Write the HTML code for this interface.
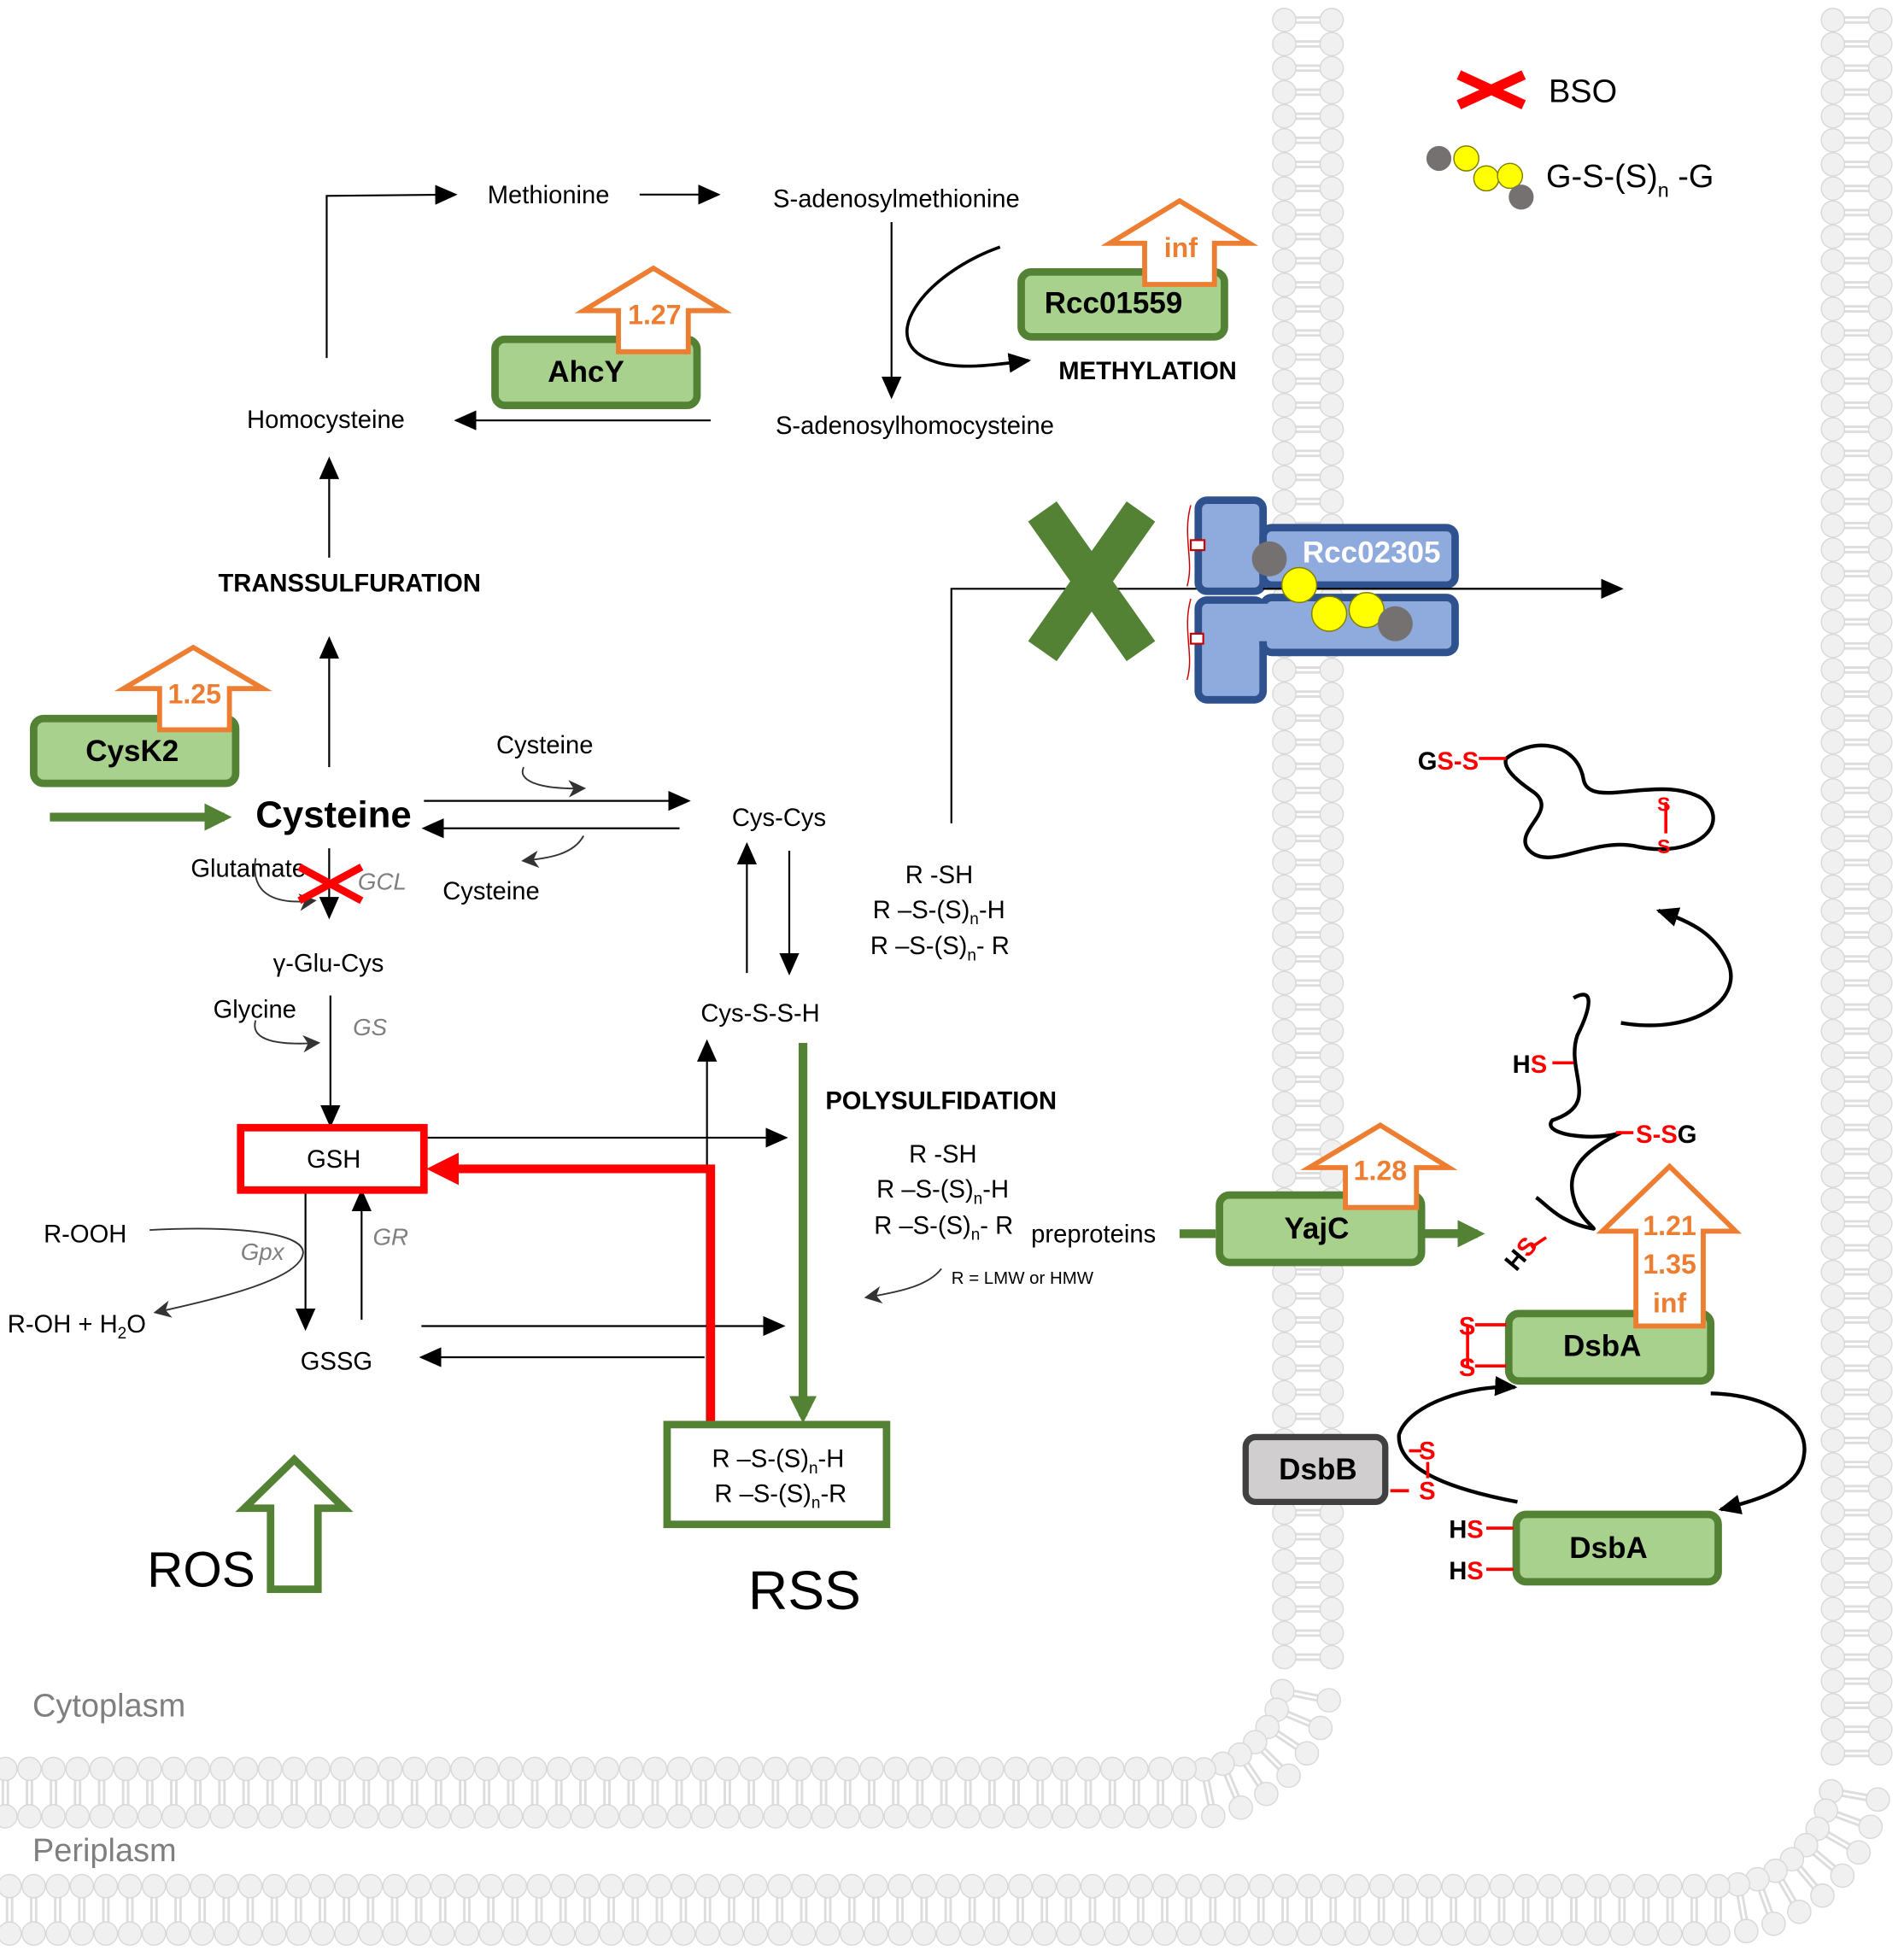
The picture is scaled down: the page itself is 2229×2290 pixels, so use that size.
<!DOCTYPE html>
<html><head><meta charset="utf-8"><style>
html,body{margin:0;padding:0;background:#fff}
svg{display:block}
text{font-family:"Liberation Sans","DejaVu Sans",sans-serif}
</style></head><body>
<svg id="s" width="2229" height="2290" viewBox="0 0 1527 1568" preserveAspectRatio="none" xmlns="http://www.w3.org/2000/svg">
<defs>
<marker id="a" markerWidth="10" markerHeight="10" refX="9" refY="5" orient="auto" markerUnits="userSpaceOnUse"><path d="M0,0 L10,5 L0,10z" fill="#000"/></marker>
<marker id="ab" markerWidth="18" markerHeight="16" refX="16" refY="8" orient="auto" markerUnits="userSpaceOnUse"><path d="M0,0 L18,8 L0,16z" fill="#000"/></marker>
<marker id="ag" markerWidth="22" markerHeight="22" refX="16" refY="11" orient="auto" markerUnits="userSpaceOnUse"><path d="M0,0 L22,11 L0,22z" fill="#548235"/></marker>
<marker id="ar" markerWidth="26" markerHeight="26" refX="6" refY="13" orient="auto" markerUnits="userSpaceOnUse"><path d="M0,0 L26,13 L0,26z" fill="#f00"/></marker>
<marker id="agr" markerWidth="14" markerHeight="14" refX="12" refY="7" orient="auto" markerUnits="userSpaceOnUse"><path d="M0,0 L14,7 L0,14 L4,7z" fill="#333"/></marker>
</defs>
<g id="mem"></g>

<path d="M1170,60 L1222,84 M1222,60 L1170,84" stroke="#f00" stroke-width="8"/>
<text x="1242" y="82" font-size="26">BSO</text>
<circle cx="1154" cy="127" r="10" fill="#767171"/>
<circle cx="1176" cy="127" r="10" fill="#ff0" stroke="#7f7f00" stroke-width="1"/>
<circle cx="1192" cy="143" r="10" fill="#ff0" stroke="#7f7f00" stroke-width="1"/>
<circle cx="1211" cy="141" r="10" fill="#ff0" stroke="#7f7f00" stroke-width="1"/>
<circle cx="1220" cy="158" r="10" fill="#767171"/>
<text x="1240" y="150" font-size="26">G-S-(S)<tspan font-size="16" dy="8">n</tspan><tspan dy="-8"> -G</tspan></text>

<g font-size="20">
<text x="391" y="163">Methionine</text>
<text x="620" y="166">S-adenosylmethionine</text>
<text x="198" y="343">Homocysteine</text>
<text x="622" y="348">S-adenosylhomocysteine</text>
<text x="398" y="604">Cysteine</text>
<text x="587" y="662">Cys-Cys</text>
<text x="355" y="721">Cysteine</text>
<text x="153" y="703">Glutamate</text>
<text x="219" y="779">γ-Glu-Cys</text>
<text x="171" y="816">Glycine</text>
<text x="562" y="819">Cys-S-S-H</text>
<text x="35" y="996">R-OOH</text>
<text x="6" y="1068">R-OH + H<tspan font-size="13" dy="5">2</tspan><tspan dy="-5">O</tspan></text>
<text x="241" y="1098">GSSG</text>
<text x="246" y="936">GSH</text>
<text x="726" y="708">R -SH</text>
<text x="700" y="736">R –S-(S)<tspan font-size="13" dy="5">n</tspan><tspan dy="-5">-H</tspan></text>
<text x="698" y="765">R –S-(S)<tspan font-size="13" dy="5">n</tspan><tspan dy="-5">- R</tspan></text>
<text x="729" y="932">R -SH</text>
<text x="703" y="960">R –S-(S)<tspan font-size="13" dy="5">n</tspan><tspan dy="-5">-H</tspan></text>
<text x="701" y="989">R –S-(S)<tspan font-size="13" dy="5">n</tspan><tspan dy="-5">- R</tspan></text>
<text x="827" y="996">preproteins</text>
<text x="571" y="1176">R –S-(S)<tspan font-size="13" dy="5">n</tspan><tspan dy="-5">-H</tspan></text>
<text x="573" y="1204">R –S-(S)<tspan font-size="13" dy="5">n</tspan><tspan dy="-5">-R</tspan></text>
</g>
<g font-size="20" font-weight="bold">
<text x="175" y="474">TRANSSULFURATION</text>
<text x="849" y="304">METHYLATION</text>
<text x="662" y="889">POLYSULFIDATION</text>
</g>
<text x="763" y="1029" font-size="14">R = LMW or HMW</text>
<g font-size="19" font-style="italic" fill="#7f7f7f">
<text x="287" y="713">GCL</text><text x="283" y="830">GS</text>
<text x="193" y="1010">Gpx</text><text x="299" y="998">GR</text>
</g>
<text x="205" y="663" font-size="30" font-weight="bold">Cysteine</text>
<text x="118" y="1272" font-size="40">ROS</text>
<text x="600" y="1290" font-size="44">RSS</text>
<text x="26" y="1376" font-size="26" fill="#7f7f7f">Cytoplasm</text>
<text x="26" y="1492" font-size="26" fill="#7f7f7f">Periplasm</text>

<g stroke="#000" stroke-width="1.5" fill="none">
<path d="M262,287 V157 L365,156" marker-end="url(#ab)"/>
<path d="M513,156 H576" marker-end="url(#ab)"/>
<path d="M715,178 V318" marker-end="url(#ab)"/>
<path d="M570,337 H366" marker-end="url(#ab)"/>
<path d="M264,447 V368" marker-end="url(#ab)"/>
<path d="M264,615 V512" marker-end="url(#ab)"/>
<path d="M340,642 H552" marker-end="url(#ab)"/>
<path d="M545,664 H340" marker-end="url(#ab)"/>
<path d="M264,680 V735" marker-end="url(#ab)"/>
<path d="M265,798 V902" marker-end="url(#ab)"/>
<path d="M599,780 V677" marker-end="url(#ab)"/>
<path d="M633,682 V780" marker-end="url(#ab)"/>
<path d="M567,1140 V835" marker-end="url(#ab)"/>
<path d="M343,912 H630" marker-end="url(#ab)"/>
<path d="M338,1063 H628" marker-end="url(#ab)"/>
<path d="M565,1088 H338" marker-end="url(#ab)"/>
<path d="M245,955 V1065" marker-end="url(#ab)"/>
<path d="M290,1058 V955" marker-end="url(#ab)"/>
<path d="M763,660 V472 H1300" marker-end="url(#ab)"/>
<path d="M802,198 C740,220 700,275 750,290 C770,297 800,292 825,289" stroke-width="2.5" marker-end="url(#ab)"/>
</g>
<g stroke="#333" stroke-width="1.3" fill="none">
<path d="M420,615 C415,625 430,633 468,632" marker-end="url(#agr)"/>
<path d="M468,670 C460,685 440,688 420,690" marker-end="url(#agr)"/>
<path d="M205,688 C200,720 225,725 252,722" marker-end="url(#agr)"/>
<path d="M205,818 C200,835 225,838 255,836" marker-end="url(#agr)"/>
<path d="M120,986 C200,982 245,990 243,1005 C240,1025 180,1040 125,1052" marker-end="url(#agr)"/>
<path d="M755,1017 C745,1030 725,1035 695,1040" marker-end="url(#agr)"/>
</g>
<path d="M240,695 L290,722 M290,695 L240,722" stroke="#f00" stroke-width="6"/>

<path d="M40,655 H180" stroke="#548235" stroke-width="7" marker-end="url(#ag)" fill="none"/>
<path d="M644,836 V1135" stroke="#548235" stroke-width="7" marker-end="url(#ag)" fill="none"/>
<path d="M946,989 H975 M1140,989 H1170" stroke="#548235" stroke-width="7" fill="none"/>
<path d="M1140,989 L1185,989" stroke="#548235" stroke-width="7" marker-end="url(#ag)"/>
<path d="M836,410 L915,522 M915,410 L836,522" stroke="#548235" stroke-width="28"/>
<rect x="193" y="904" width="147" height="50" fill="none" stroke="#f00" stroke-width="6"/>
<path d="M570,1140 V937 H362" stroke="#f00" stroke-width="7" fill="none" marker-end="url(#ar)"/>
<rect x="535" y="1142" width="176" height="80" fill="none" stroke="#548235" stroke-width="6"/>
<path d="M236,1170 L276,1209 L255,1209 L255,1274 L217,1274 L217,1209 L196,1209 Z" fill="#fff" stroke="#548235" stroke-width="6"/>

<g stroke="#548235" stroke-width="6" fill="#a9d18e">
<rect x="27" y="576" width="162" height="52" rx="8"/>
<rect x="397" y="272" width="162" height="53" rx="8"/>
<rect x="819" y="218" width="163" height="52" rx="8"/>
<rect x="978" y="958" width="162" height="54" rx="8"/>
<rect x="1210" y="1053" width="162" height="54" rx="8"/>
<rect x="1216" y="1214" width="162" height="54" rx="8"/>
</g>
<rect x="999" y="1152" width="112" height="52" rx="8" fill="#d0cece" stroke="#404040" stroke-width="5"/>
<g fill="#fff" stroke="#ed7d31" stroke-width="4">
<path d="M155,519 L211,552 L184,552 L184,585 L128,585 L128,552 L99,552Z"/>
<path d="M524,215 L580,249 L552,249 L552,282 L496,282 L496,249 L468,249Z"/>
<path d="M946,161 L1002,195 L974,195 L974,228 L918,228 L918,195 L890,195Z"/>
<path d="M1107,902 L1162,936 L1136,936 L1136,968 L1079,968 L1079,936 L1050,936Z"/>
<path d="M1339,935 L1392,987 L1366,987 L1366,1063 L1312,1063 L1312,987 L1285,987Z"/>
</g>
<g fill="#ed7d31" font-size="22" font-weight="bold" text-anchor="middle">
<text x="156" y="564">1.25</text><text x="525" y="260">1.27</text><text x="947" y="206">inf</text>
<text x="1107" y="946">1.28</text>
<text x="1339" y="990">1.21</text><text x="1339" y="1021">1.35</text><text x="1339" y="1052">inf</text>
</g>
<g font-size="24" font-weight="bold" text-anchor="middle">
<text x="106" y="610">CysK2</text><text x="470" y="306">AhcY</text><text x="893" y="251">Rcc01559</text>
<text x="1056" y="993">YajC</text><text x="1285" y="1087">DsbA</text><text x="1290" y="1249">DsbA</text>
<text x="1057" y="1186">DsbB</text>
</g>

<g stroke="#2f528f" stroke-width="6" fill="#8faadc">
<rect x="961" y="401" width="52" height="73" rx="7"/>
<rect x="961" y="481" width="52" height="80" rx="7"/>
<rect x="1013" y="423" width="154" height="46" rx="7"/>
<rect x="1013" y="479" width="154" height="44" rx="7"/>
</g>
<rect x="1006" y="484" width="14" height="30" fill="#8faadc"/>
<path d="M1013,472 H1300" stroke="#000" stroke-width="1.5" marker-end="url(#ab)"/>
<text x="1100" y="451" font-size="24" font-weight="bold" fill="#fff" text-anchor="middle">Rcc02305</text>
<circle cx="1018" cy="448" r="14" fill="#767171"/>
<circle cx="1042" cy="469" r="14" fill="#ff0" stroke="#7f7f00"/>
<circle cx="1066" cy="492" r="14" fill="#ff0" stroke="#7f7f00"/>
<circle cx="1096" cy="489" r="14" fill="#ff0" stroke="#7f7f00"/>
<circle cx="1119" cy="500" r="14" fill="#767171"/>
<rect x="955" y="433" width="11" height="8" fill="#fff" stroke="#c00" stroke-width="1.5"/>
<rect x="955" y="508" width="10" height="8" fill="#fff" stroke="#c00" stroke-width="1.5"/>
<path d="M955,405 C948,430 958,450 952,470 M955,480 C948,505 958,525 952,545" stroke="#c00" stroke-width="1" fill="none"/>

<g stroke="#000" stroke-width="3" fill="none">
<path d="M1208,608 C1230,590 1265,595 1270,625 C1275,650 1330,620 1365,640 C1390,660 1360,690 1310,678 C1275,672 1240,700 1225,680 C1215,665 1250,650 1230,635 C1215,625 1205,615 1208,608"/>
<path d="M1300,820 C1360,830 1400,800 1385,770 C1375,750 1360,740 1330,730" marker-end="url(#ab)"/>
<path d="M1262,800 C1280,790 1275,810 1265,830 C1255,860 1285,885 1245,898 C1235,910 1280,915 1300,908 C1275,920 1255,935 1262,960 C1265,975 1280,985 1278,985 C1250,980 1240,965 1232,960"/>
<path d="M1217,1204 C1170,1195 1120,1180 1122,1150 C1130,1125 1180,1110 1215,1112" marker-end="url(#ab)"/>
<path d="M1372,1117 C1420,1118 1450,1140 1447,1165 C1445,1190 1420,1200 1380,1210" marker-end="url(#ab)"/>
</g>
<g stroke="#f00" stroke-width="2.5">
<path d="M1186,608 H1208 M1336,643 V668 M1245,852 H1262 M1296,908 H1310 M1228,1000 L1240,992 M1183,1062 H1208 M1183,1095 H1208 M1177,1062 V1095 M1130,1163 H1140 M1145,1172 V1185 M1115,1195 H1130 M1192,1225 H1214 M1192,1258 H1214"/>
</g>
<g font-size="20" font-weight="bold">
<text x="1137" y="617">G<tspan fill="#f00">S-S</tspan></text>
<text x="1329" y="650" fill="#f00" font-size="16">S</text><text x="1329" y="684" fill="#f00" font-size="16">S</text>
<text x="1213" y="860">H<tspan fill="#f00">S</tspan></text>
<text x="1312" y="916"><tspan fill="#f00">S-S</tspan>G</text>
<text x="1216" y="1020" transform="rotate(-50 1216 1020)">H<tspan fill="#f00">S</tspan></text>
<text x="1170" y="1070" fill="#f00">S</text><text x="1170" y="1103" fill="#f00">S</text>
<text x="1138" y="1170" fill="#f00">S</text><text x="1138" y="1202" fill="#f00">S</text>
<text x="1162" y="1233">H<tspan fill="#f00">S</tspan></text>
<text x="1162" y="1266">H<tspan fill="#f00">S</tspan></text>
</g>
</svg>
<script>
(function(){
var g=document.getElementById('mem'),out='';
function lip(x,y,nx,ny){
  var h=19,ax=x-nx*h,ay=y-ny*h,bx=x+nx*h,by=y+ny*h;
  var px=-ny*2,py=nx*2;
  out+='<line x1="'+(ax+px)+'" y1="'+(ay+py)+'" x2="'+(bx+px)+'" y2="'+(by+py)+'" stroke="#ddd" stroke-width="2"/>';
  out+='<line x1="'+(ax-px)+'" y1="'+(ay-py)+'" x2="'+(bx-px)+'" y2="'+(by-py)+'" stroke="#ddd" stroke-width="2"/>';
  out+='<circle cx="'+ax+'" cy="'+ay+'" r="9.3" fill="#f0f0f0" stroke="#d9d9d9" stroke-width="1"/>';
  out+='<circle cx="'+bx+'" cy="'+by+'" r="9.3" fill="#f0f0f0" stroke="#d9d9d9" stroke-width="1"/>';
}
var sp=19.3,y,x,t;
for(y=16;y<=1340;y+=sp) lip(1049,y,1,0);
var cx=950,cy=1340,R=99,n=Math.round(Math.PI/2*R/sp);
for(var i=1;i<n;i++){t=i/n*Math.PI/2;lip(cx+R*Math.cos(t),cy+R*Math.sin(t),Math.cos(t),Math.sin(t));}
for(x=950;x>=0;x-=sp) lip(x,1437,0,1);
for(y=16;y<=1420;y+=sp) lip(1489,y,1,0);
cx=1378;cy=1420;R=111;n=Math.round(Math.PI/2*R/sp);
for(i=1;i<n;i++){t=i/n*Math.PI/2;lip(cx+R*Math.cos(t),cy+R*Math.sin(t),Math.cos(t),Math.sin(t));}
for(x=1378;x>=0;x-=sp) lip(x,1531,0,1);
g.innerHTML=out;
})();
</script>
</body></html>
